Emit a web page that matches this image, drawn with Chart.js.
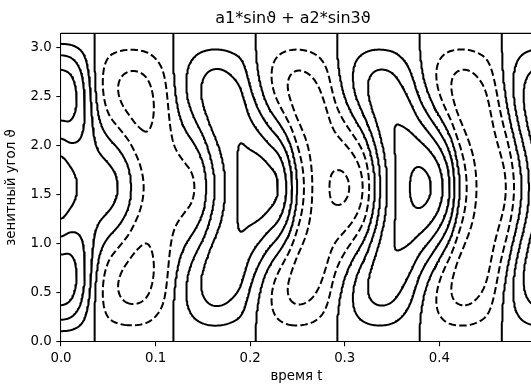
<!DOCTYPE html>
<html><head><meta charset="utf-8">
<script src="https://cdn.jsdelivr.net/npm/chart.js@4.4.1/dist/chart.umd.min.js"></script>
<style>html,body{margin:0;padding:0;background:#fff;overflow:hidden}
#wrap{position:relative;width:540px;height:385px}</style></head>
<body><div id="wrap"><canvas id="c" width="540" height="385"></canvas></div>
<script>
// time samples (t) and mode amplitudes a1(t), a2(t)
const times = [0.00,0.01,0.02,0.03,0.04,0.05,0.06,0.07,0.08,0.09,0.10,0.11,0.12,0.13,0.14,0.15,0.16,0.17,0.18,0.19,0.20,0.21,0.22,0.23,0.24,0.25,0.26,0.27,0.28,0.29,0.30,0.31,0.32,0.33,0.34,0.35,0.36,0.37,0.38,0.39,0.40,0.41,0.42,0.43,0.44,0.45,0.46,0.47,0.48,0.49,0.50];
const a1 = [0.99,1.07,0.96,0.66,0.26,-0.03,-0.26,-0.51,-0.76,-0.88,-0.80,-0.66,-0.38,-0.13,0.12,0.45,0.85,1.12,1.29,1.35,1.20,0.99,0.71,0.40,-0.07,-0.64,-0.99,-1.18,-1.16,-0.98,-0.76,-0.45,-0.04,0.52,1.03,1.34,1.46,1.44,1.26,0.98,0.59,0.08,-0.55,-0.95,-1.14,-1.14,-0.91,-0.50,0.08,0.63,1.06];
const a2 = [0.94,0.80,0.51,0.10,-0.34,-0.58,-0.66,-0.65,-0.56,-0.43,-0.28,-0.10,0.18,0.39,0.54,0.60,0.55,0.44,0.27,0.07,-0.22,-0.46,-0.65,-0.78,-0.77,-0.62,-0.44,-0.23,-0.01,0.27,0.49,0.65,0.71,0.64,0.48,0.29,0.06,-0.18,-0.45,-0.64,-0.76,-0.78,-0.65,-0.50,-0.32,-0.14,0.09,0.31,0.43,0.48,0.46];
const levels = [-1.6,-1.2,-0.8,-0.4,0,0.4,0.8,1.2,1.6];
const xTickValues = [0,0.1,0.2,0.3,0.4];
const yTickValues = [0,0.5,1,1.5,2,2.5,3];
const titleText = 'a1*sinϑ + a2*sin3ϑ';
const T_MIN = 0, T_MAX = 0.498, TH_MIN = 0, TH_MAX = Math.PI;

function amp(arr, t){
  const n = arr.length, dt = times[1]-times[0];
  let u = (t - times[0]) / dt; let i = Math.floor(u);
  if (i < 0) i = 0; if (i > n-2) i = n-2;
  const s = u - i;
  const p0 = arr[Math.max(i-1,0)], p1 = arr[i], p2 = arr[i+1], p3 = arr[Math.min(i+2,n-1)];
  return 0.5*((2*p1) + (-p0+p2)*s + (2*p0-5*p1+4*p2-p3)*s*s + (-p0+3*p1-3*p2+p3)*s*s*s);
}

const NT = 360, NTH = 170, EPS = 1e-3;
const tv = [], hv = [];
for (let i=0;i<NT;i++) tv.push(T_MIN + (T_MAX-T_MIN)*i/(NT-1));
for (let j=0;j<NTH;j++) hv.push(TH_MIN+EPS + (TH_MAX-TH_MIN-2*EPS)*j/(NTH-1));
const F = [];
const A1 = tv.map(t=>amp(a1,t)), A2 = tv.map(t=>amp(a2,t));
for (let j=0;j<NTH;j++){ const row=[]; const s1=Math.sin(hv[j]), s3=Math.sin(3*hv[j]);
  for (let i=0;i<NT;i++) row.push(A1[i]*s1 + A2[i]*s3); F.push(row); }

const CASES = {1:[[3,0]],2:[[0,1]],3:[[3,1]],4:[[1,2]],6:[[0,2]],7:[[2,3]],8:[[2,3]],9:[[0,2]],11:[[1,2]],12:[[1,3]],13:[[0,1]],14:[[0,3]]};
function contourLines(L){
  const pts = new Map(), segs = [];
  for (let j=0;j<NTH-1;j++) for (let i=0;i<NT-1;i++){
    const v0=F[j][i], v1=F[j][i+1], v2=F[j+1][i+1], v3=F[j+1][i];
    const idx=(v0>L?1:0)|(v1>L?2:0)|(v2>L?4:0)|(v3>L?8:0);
    if (idx===0||idx===15) continue;
    const keys=['h'+i+'_'+j,'v'+(i+1)+'_'+j,'h'+i+'_'+(j+1),'v'+i+'_'+j];
    const getP=(e)=>{ const k=keys[e]; if (pts.has(k)) return k; let p;
      if(e===0){const s=(L-v0)/(v1-v0); p={x:tv[i]+s*(tv[i+1]-tv[i]), y:hv[j]};}
      else if(e===1){const s=(L-v1)/(v2-v1); p={x:tv[i+1], y:hv[j]+s*(hv[j+1]-hv[j])};}
      else if(e===2){const s=(L-v3)/(v2-v3); p={x:tv[i]+s*(tv[i+1]-tv[i]), y:hv[j+1]};}
      else {const s=(L-v0)/(v3-v0); p={x:tv[i], y:hv[j]+s*(hv[j+1]-hv[j])};}
      pts.set(k,p); return k; };
    let pairs;
    if (idx===5||idx===10){ const c=(v0+v1+v2+v3)/4>L;
      if (idx===5) pairs = c? [[0,1],[2,3]] : [[3,0],[1,2]];
      else pairs = c? [[3,0],[1,2]] : [[0,1],[2,3]]; }
    else pairs = CASES[idx];
    for (const [a,b] of pairs) segs.push([getP(a),getP(b)]);
  }
  const adj = new Map();
  segs.forEach((s,n)=>{ for (const k of s){ if(!adj.has(k)) adj.set(k,[]); adj.get(k).push(n);} });
  const used = new Uint8Array(segs.length), lines=[];
  for (let n=0;n<segs.length;n++){ if (used[n]) continue; used[n]=1;
    const chain=[segs[n][0],segs[n][1]];
    let cur=segs[n][1];
    for(;;){ const nx=(adj.get(cur)||[]).find(m=>!used[m]); if(nx===undefined) break; used[nx]=1;
      const s=segs[nx]; cur = s[0]===cur? s[1]:s[0]; chain.push(cur); }
    cur=segs[n][0];
    for(;;){ const nx=(adj.get(cur)||[]).find(m=>!used[m]); if(nx===undefined) break; used[nx]=1;
      const s=segs[nx]; cur = s[0]===cur? s[1]:s[0]; chain.unshift(cur); }
    lines.push(chain.map(k=>pts.get(k)));
  }
  return lines;
}

const datasets = [];
for (const L of levels){
  for (const line of contourLines(L)){
    datasets.push({data:line, showLine:true, pointRadius:0, borderColor:'#000', borderWidth:2,
      borderDash: L<0 ? [7.4,3.2] : [], borderCapStyle:'butt', borderJoinStyle:'round', fill:false, tension:0});
  }
}

const FONT = 'DejaVu Sans';
const frame = { id:'frame', afterDraw(chart){ const {ctx, chartArea:a}=chart; ctx.save(); ctx.strokeStyle='#000'; ctx.lineWidth=1.07;
  ctx.beginPath(); ctx.moveTo(a.left, a.top); ctx.lineTo(a.right, a.top); ctx.lineTo(a.right,a.bottom); ctx.stroke();
  ctx.fillStyle='#000'; ctx.font='16px "DejaVu Sans"'; ctx.textAlign='center'; ctx.textBaseline='middle';
  ctx.fillText(titleText, 293, 18.5); ctx.restore(); } };

new Chart(document.getElementById('c'), {
  type:'scatter',
  data:{datasets},
  plugins:[frame],
  options:{
    responsive:false, animation:false, devicePixelRatio:1,
    layout:{padding:{left:0,right:8,top:33.4,bottom:0}},
    plugins:{ legend:{display:false}, tooltip:{enabled:false}, title:{display:false} },
    scales:{
      x:{type:'linear', min:T_MIN, max:T_MAX,
        afterBuildTicks:s=>{ s.ticks = xTickValues.map(v=>({value:v})); },
        afterFit:s=>{ s.height = 43.3; },
        ticks:{color:'#000', font:{family:FONT,size:13.33}, padding:4.67, maxRotation:0, callback:v=>v.toFixed(1)},
        grid:{drawOnChartArea:false, drawTicks:true, tickLength:4.67, color:'#000', lineWidth:1.07},
        border:{display:true, color:'#000', width:1.07},
        title:{display:true, text:'время t', color:'#000', font:{family:FONT,size:13.33}, padding:{top:0,bottom:0.3}} },
      y:{type:'linear', min:TH_MIN, max:TH_MAX,
        afterBuildTicks:s=>{ s.ticks = yTickValues.map(v=>({value:v})); },
        afterFit:s=>{ s.width = 61; },
        ticks:{color:'#000', font:{family:FONT,size:13.33}, padding:4.67, callback:v=>v.toFixed(1)},
        grid:{drawOnChartArea:false, drawTicks:true, tickLength:4.67, color:'#000', lineWidth:1.07},
        border:{display:true, color:'#000', width:1.07},
        title:{display:true, text:'зенитный угол ϑ', color:'#000', font:{family:FONT,size:13.33}, padding:{top:4,bottom:0}} }
    }
  }
});
</script></body></html>
